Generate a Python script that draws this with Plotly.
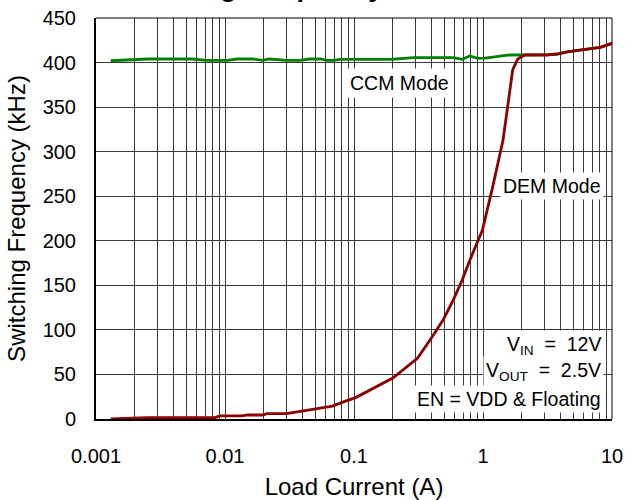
import plotly.graph_objects as go

# Data
ccm_current = [0.0013, 0.0025, 0.0056, 0.0072, 0.0104, 0.0124, 0.0165, 0.0196, 0.022, 0.03, 0.038,
               0.045, 0.055, 0.062, 0.069, 0.078, 0.11, 0.2, 0.29, 0.45, 0.59, 0.69, 0.79, 0.91,
               1.04, 1.6, 2.0, 3.1, 3.65, 4.5, 6.4, 8.1, 10]
ccm_freq = [402, 404, 404, 402.5, 402.5, 404, 404, 402.5, 404, 402.5, 402.5,
            404, 404, 402.5, 402.5, 403.5, 403.5, 403.7, 405.5, 405.5, 405.5, 403.7, 407.4, 404.8,
            405, 408.5, 408.5, 408.7, 409, 412, 415, 417, 421.5]

dem_current = [0.0013, 0.0025, 0.0084, 0.0091, 0.0135, 0.015, 0.0197, 0.021, 0.03, 0.038, 0.048,
               0.068, 0.088, 0.103, 0.2, 0.31, 0.39, 0.49, 0.59, 0.69, 0.8, 0.99, 1.2, 1.43,
               1.7, 1.86, 2.1, 3.1, 3.9, 4.5, 6.4, 8.1, 10]
dem_freq = [0, 1.5, 1.5, 3.4, 3.4, 4.5, 4.5, 6, 6, 8.5, 10.9,
            14.5, 20.6, 24, 46, 68, 89, 111, 134, 156, 180, 212, 263, 313,
            392, 404, 408.5, 408.5, 410, 412, 415, 417, 421.5]

x_tickvals = [0.001, 0.01, 0.1, 1, 10]
x_ticktext = ["0.001", "0.01", "0.1", "1", "10"]
x_minorvals = [m * 10 ** e for e in range(-3, 1) for m in range(2, 10)]
y_tickvals = list(range(0, 451, 50))

title_text = "Switching Frequency vs Load Current"
ccm_label = "CCM Mode"
dem_label = "DEM Mode"
cond_lines = ["V<sub>IN</sub>  =  12V", "V<sub>OUT</sub>  =  2.5V", "EN = VDD & Floating"]

FONT = "Arial, Liberation Sans, sans-serif"

fig = go.Figure()
fig.add_trace(go.Scatter(x=ccm_current, y=ccm_freq, mode="lines",
                         line=dict(color="#008000", width=2.8), showlegend=False))
fig.add_trace(go.Scatter(x=dem_current, y=dem_freq, mode="lines",
                         line=dict(color="#8B0000", width=2.8), showlegend=False))

grid = "#3a3a3a"
fig.update_xaxes(type="log", range=[-3, 1], tickvals=x_tickvals, ticktext=x_ticktext,
                 minor=dict(tickvals=x_minorvals, showgrid=True, gridcolor=grid, gridwidth=1,
                            ticks=""),
                 showgrid=True, gridcolor=grid, gridwidth=1, zeroline=False,
                 showline=True, linecolor="black", linewidth=2, ticks="",
                 ticklabelstandoff=18, automargin=False,
                 tickfont=dict(family=FONT, size=20, color="black"),
                 title=dict(text="Load Current (A)", font=dict(family=FONT, size=24, color="black"),
                            standoff=22))
fig.update_yaxes(range=[0, 450], tickvals=y_tickvals,
                 showgrid=True, gridcolor=grid, gridwidth=1, zeroline=False,
                 showline=True, linecolor="black", linewidth=2, ticks="",
                 ticklabelstandoff=14, automargin=False,
                 tickfont=dict(family=FONT, size=20, color="black"),
                 title=dict(text="Switching Frequency (kHz)",
                            font=dict(family=FONT, size=24, color="black"), standoff=10))

# top / right frame
fig.add_shape(type="line", xref="paper", yref="paper", x0=0, x1=1, y0=1, y1=1,
              line=dict(color="black", width=1))
fig.add_shape(type="line", xref="paper", yref="paper", x0=1, x1=1, y0=0, y1=1,
              line=dict(color="black", width=1))

ann_font = dict(family=FONT, size=19.5, color="black")
fig.add_annotation(x=-0.645, y=377, xref="x", yref="y", text=ccm_label, showarrow=False,
                   font=ann_font, bgcolor="white", borderpad=3)
fig.add_annotation(x=0.985, y=262, xref="paper", yref="y", text=dem_label, showarrow=False,
                   xanchor="right", font=ann_font, bgcolor="white", borderpad=2)
for t, yv in zip(cond_lines, [83, 53, 23]):
    fig.add_annotation(x=0.985, y=yv, xref="paper", yref="y", text=t, showarrow=False,
                       xanchor="right", font=ann_font, bgcolor="white", borderpad=2)

# title, mostly above the top edge as in the reference
fig.add_annotation(x=0.5, y=1.0355, xref="paper", yref="paper", yanchor="bottom",
                   text="<b>" + title_text + "</b>", showarrow=False,
                   font=dict(family=FONT, size=27.5, color="black"))

fig.update_layout(
    width=625, height=500,
    margin=dict(l=96, r=13, t=18, b=81, autoexpand=False),
    paper_bgcolor="white", plot_bgcolor="white",
)

fig.write_html("out.html", config={"displayModeBar": False},
               post_script="document.body.style.margin='0px';document.body.style.padding='0px';")
